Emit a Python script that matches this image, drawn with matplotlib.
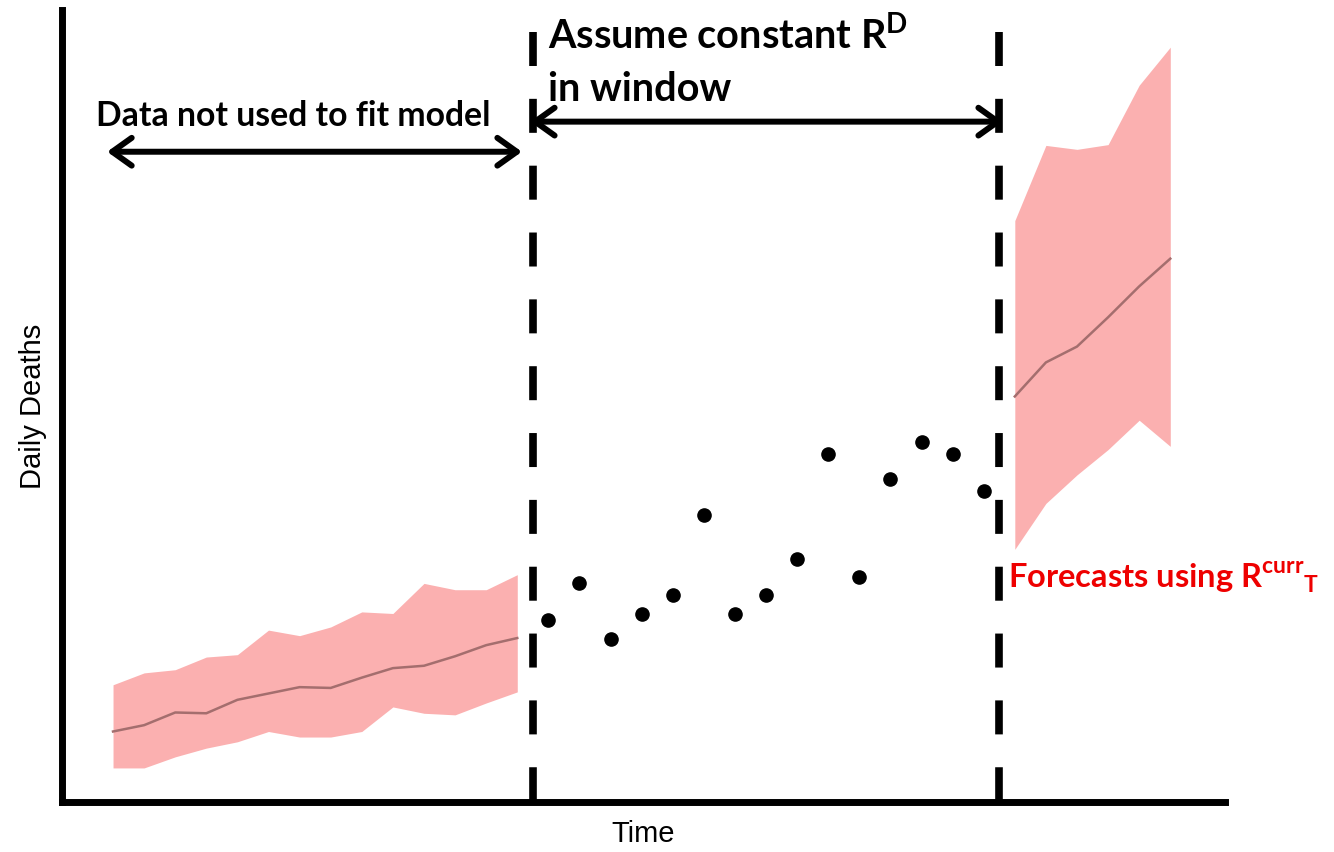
import matplotlib
matplotlib.use('Agg')
import matplotlib.pyplot as plt

plt.rcParams['mathtext.fontset'] = 'custom'
plt.rcParams['mathtext.rm'] = 'Lato'
plt.rcParams['mathtext.bf'] = 'Lato:bold'

# days before the fitting window (model fit with uncertainty band)
t_past = list(range(0, 14))
past_mean = [8.9, 9.7, 11.3, 11.2, 12.9, 13.7, 14.5, 14.4, 15.7, 16.9, 17.2, 18.4, 19.8, 20.7]
past_upper = [14.8, 16.3, 16.7, 18.3, 18.6, 21.7, 21.0, 22.1, 24.0, 23.8, 27.6, 26.8, 26.8, 28.7]
past_lower = [4.3, 4.3, 5.7, 6.8, 7.6, 8.9, 8.2, 8.2, 8.9, 12.0, 11.2, 11.0, 12.5, 13.9]

# observed daily deaths in the window
t_window = list(range(14, 29))
window_deaths = [23.0, 27.6, 20.6, 23.7, 26.1, 36.2, 23.7, 26.1, 30.7, 43.9, 28.4, 40.8, 45.5, 43.9, 39.3]

# forecasts after the window
t_future = list(range(29, 35))
future_mean = [51.2, 55.5, 57.5, 61.2, 65.1, 68.6]
future_upper = [73.4, 82.9, 82.4, 83.0, 90.5, 95.3]
future_lower = [31.9, 37.7, 41.3, 44.5, 48.2, 44.9]

window_start = 13.5
window_end = 28.5

band_col = '#fbb0b0'
line_col = '#a46e6e'

fig = plt.figure(figsize=(13.34, 8.52), dpi=100)
ax = fig.add_axes([0.0465, 0.0587, 0.8718, 0.9296])

ax.fill_between(t_past, past_lower, past_upper, color=band_col, lw=0)
ax.plot(t_past, past_mean, color=line_col, lw=1.8)
ax.fill_between(t_future, future_lower, future_upper, color=band_col, lw=0)
ax.plot(t_future, future_mean, color=line_col, lw=1.8)
ax.plot(t_window, window_deaths, 'o', color='black', ms=9.5)

for xv in [window_start, window_end]:
    ax.plot([xv, xv], [97.2, 0], color='black', lw=5.5, linestyle=(0, (4.45, 4.3)),
            solid_capstyle='butt', dash_capstyle='butt')

ax.set_xlim(-1.64, 35.76)
ax.set_ylim(0, 100)
ax.set_xticks([])
ax.set_yticks([])
for s in ['top', 'right']:
    ax.spines[s].set_visible(False)
for s in ['left', 'bottom']:
    ax.spines[s].set_linewidth(5)

arrow = dict(arrowstyle='<->,head_length=0.7,head_width=0.5', lw=4.3, color='black',
             mutation_scale=20, shrinkA=0, shrinkB=0)
ax.annotate('', xy=(-0.19, 82.1), xytext=(13.15, 82.1), arrowprops=arrow)
ax.annotate('', xy=(13.41, 85.9), xytext=(28.62, 85.9), arrowprops=arrow)

ax.text(5.8, 86.6, 'Data not used to fit model', fontsize=24.3, fontweight='bold',
        family='Lato', ha='center', va='center')
ax.text(14.0, 96.8, 'Assume constant R$^{\\mathbf{D}}$', fontsize=28.5, fontweight='bold',
        family='Lato', ha='left', va='center')
ax.text(14.0, 89.9, 'in window', fontsize=28.5, fontweight='bold',
        family='Lato', ha='left', va='center')
ax.text(28.78, 28.2, 'Forecasts using R$^{\\mathbf{curr}}{}_{\\mathbf{T}}$', fontsize=23.5,
        fontweight='bold', family='Lato', color='#ee0000', ha='left', va='center')

ax.set_xlabel('Time', fontsize=21, family=['Liberation Sans Narrow', 'Liberation Sans'], labelpad=13)
ax.set_ylabel('Daily Deaths', fontsize=21, family=['Liberation Sans Narrow', 'Liberation Sans'], labelpad=11)

fig.savefig('out.png', dpi=100)
